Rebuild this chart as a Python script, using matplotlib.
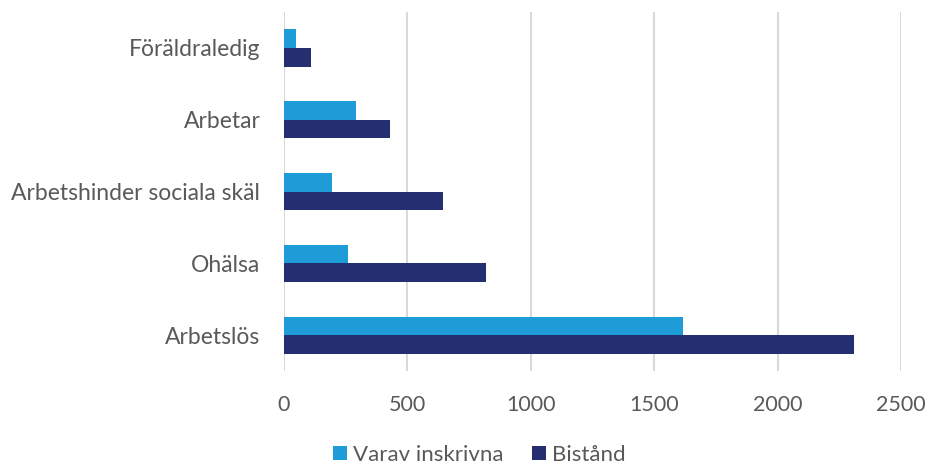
import matplotlib
matplotlib.use("Agg")
import matplotlib.pyplot as plt
import numpy as np

categories = ["Arbetslös", "Ohälsa", "Arbetshinder sociala skäl", "Arbetar", "Föräldraledig"]
varav = [1618, 261, 196, 290, 47]
bistand = [2310, 817, 643, 428, 108]
series_names = ["Varav inskrivna", "Bistånd"]
xticks = [0, 500, 1000, 1500, 2000, 2500]

plt.rcParams['font.family'] = ['Lato', 'DejaVu Sans']
text_color = "#595959"

fig = plt.figure(figsize=(9.25, 4.66), dpi=100)
ax = fig.add_axes([0.307, 0.204, 0.667, 0.770])

y = np.arange(len(categories))
h = 0.258
ax.barh(y + h/2, varav, height=h, color="#1E9CD7", label=series_names[0], zorder=3)
ax.barh(y - h/2, bistand, height=h, color="#252E6E", label=series_names[1], zorder=3)

ax.set_xlim(0, 2500)
ax.set_ylim(-0.5, 4.5)
ax.set_xticks(xticks)
ax.set_xticklabels([str(v) for v in xticks])
ax.set_yticks(y)
ax.set_yticklabels(categories)
ax.tick_params(axis='both', length=0, labelsize=16.5, colors=text_color)
ax.tick_params(axis='x', pad=17, labelsize=15.5)
ax.tick_params(axis='y', pad=17)
ax.grid(axis='x', color="#D9D9D9", linewidth=1.5, zorder=0)
for s in ax.spines.values():
    s.set_visible(False)

fig.legend(loc='center', bbox_to_anchor=(0.518, 0.024), ncol=2, frameon=False,
           fontsize=16, labelcolor=text_color, handlelength=0.65, handleheight=0.65,
           handletextpad=0.25, columnspacing=1.3)

fig.savefig("out.png", dpi=100)
